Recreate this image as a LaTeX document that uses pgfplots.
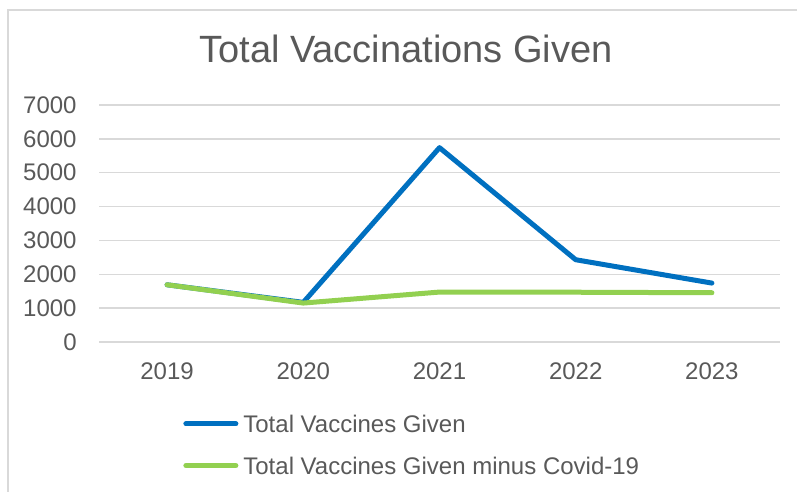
\documentclass[border=0pt]{standalone}
\usepackage{fontspec}
\setmainfont{Liberation Sans}
\usepackage{pgfplots}
\pgfplotsset{compat=1.18}
\definecolor{txt}{HTML}{595959}
\definecolor{gridc}{HTML}{D9D9D9}
\definecolor{blueS}{HTML}{0070C0}
\definecolor{greenS}{HTML}{92D050}
\begin{document}
\begin{tikzpicture}[x=1pt,y=1pt]
\useasboundingbox (0,0) rectangle (398.5,246);
\draw[gridc, line width=0.75pt] (4,0) -- (4,241) -- (398.5,241);
\node[anchor=base, text=txt, inner sep=0pt, font=\fontsize{19}{22}\selectfont] at (203,214.5) {Total Vaccinations Given};
\begin{axis}[
  at={(49.5pt,75pt)}, anchor=south west,
  scale only axis, width=340.5pt, height=118.5pt,
  xmin=-0.5, xmax=4.5, ymin=0, ymax=7000,
  xtick={0,1,2,3,4}, xticklabels={2019,2020,2021,2022,2023},
  ytick={0,1000,...,7000},
  ymajorgrids, grid style={gridc, line width=0.75pt},
  axis line style={draw=none}, major tick length=0pt,
  /pgf/number format/assume math mode=true,
  /pgf/number format/1000 sep={},
  tick label style={text=txt, font=\fontsize{12}{14}\selectfont},
  yticklabel style={anchor=east, inner sep=0pt, xshift=-11pt},
  xticklabel style={anchor=north, inner sep=0pt, yshift=-10pt},
  clip=false,
  legend style={at={(0.1233,-0.308)}, anchor=north west, draw=none, fill=none, inner sep=0pt,
    row sep=12.2pt, column sep=2.5pt,
    nodes={text=txt, font=\fontsize{12}{14}\selectfont, inner sep=0pt, text height=8.6pt, text depth=0pt}},
  legend cell align=left,
  legend image code/.code={\draw[#1, line width=2.5pt, line cap=round] (1.25pt,0) -- (26.25pt,0);},
]
\addplot[blueS, line width=2.5pt, line cap=round, line join=round] coordinates {(0,1690) (1,1170) (2,5740) (3,2430) (4,1740)};
\addlegendentry{Total Vaccines Given}
\addplot[greenS, line width=2.5pt, line cap=round, line join=round] coordinates {(0,1690) (1,1150) (2,1475) (3,1470) (4,1455)};
\addlegendentry{Total Vaccines Given minus Covid-19}
\end{axis}
\end{tikzpicture}
\end{document}
